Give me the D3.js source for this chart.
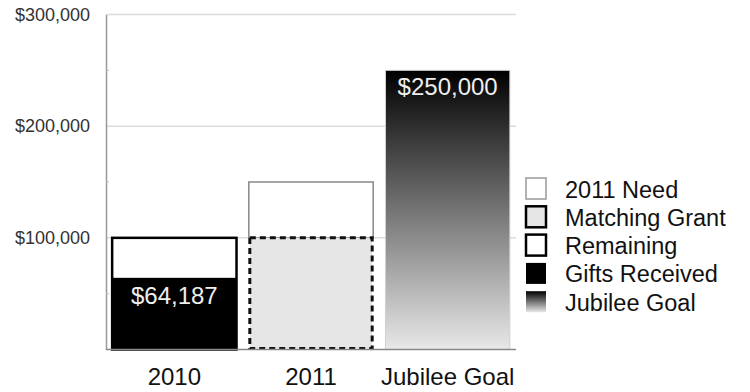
<!DOCTYPE html>
<html>
<head>
  <style>
    body { margin: 0; background: #fff; }
    text { font-family: "Liberation Sans", Arial, sans-serif; }
  </style>
</head>
<body>
  <script src="https://cdn.jsdelivr.net/npm/d3@7"></script>
  <script>
    // data
    var categories = ["2010", "2011", "Jubilee Goal"];
    var giftsReceived = 64187;     // 2010
    var remaining2010 = 100000;    // 2010 total bar
    var matchingGrant = 100000;    // 2011
    var need2011 = 150000;         // 2011 total bar
    var jubileeGoal = 250000;
    var yTicks = [0, 100000, 200000, 300000];
    var yMinorTicks = [50000, 150000, 250000];
    var legendLabels = ["2011 Need", "Matching Grant", "Remaining", "Gifts Received", "Jubilee Goal"];

    var width = 750, height = 392;
    var margin = {top: 14.5, left: 106, right: 234, bottom: 42.5};

    var svg = d3.select("body").append("svg")
      .attr("width", width)
      .attr("height", height);

    var defs = svg.append("defs");
    var grad = defs.append("linearGradient")
      .attr("id", "jubGrad")
      .attr("x1", 0).attr("y1", 0).attr("x2", 0).attr("y2", 1);
    grad.append("stop").attr("offset", "0%").attr("stop-color", "#000");
    grad.append("stop").attr("offset", "100%").attr("stop-color", "#e8e8e8");

    var x = d3.scaleBand()
      .domain(categories)
      .range([margin.left, width - margin.right])
      .paddingInner(0.09)
      .paddingOuter(0.045);

    var y = d3.scaleLinear()
      .domain([0, 300000])
      .range([height - margin.bottom, margin.top]);

    var fmt = function(v) { return "$" + d3.format(",")(v); };

    // gridlines
    svg.append("g").selectAll("line")
      .data(yTicks.slice(1))
      .enter().append("line")
      .attr("x1", margin.left).attr("x2", width - margin.right)
      .attr("y1", function(d) { return y(d); })
      .attr("y2", function(d) { return y(d); })
      .attr("stroke", "#dcdcdc")
      .attr("stroke-width", 1.5);

    // y axis
    var yAxis = d3.axisLeft(y)
      .tickValues(yTicks.slice(1))
      .tickFormat(fmt)
      .tickSize(0)
      .tickPadding(16);
    var ya = svg.append("g")
      .attr("transform", "translate(" + margin.left + ",0)")
      .call(yAxis);
    ya.select(".domain").attr("stroke", "#999").attr("stroke-width", 1.5);
    ya.selectAll("text").attr("font-size", 18).attr("fill", "#333")
      .attr("font-family", "Liberation Sans, Arial, sans-serif");

    svg.append("g").selectAll("line")
      .data(yMinorTicks)
      .enter().append("line")
      .attr("x1", margin.left).attr("x2", margin.left + 3)
      .attr("y1", function(d) { return y(d); })
      .attr("y2", function(d) { return y(d); })
      .attr("stroke", "#bbb");

    var bw = x.bandwidth();

    // 2010: remaining (white) + gifts received (black)
    var x0 = x(categories[0]);
    svg.append("rect")
      .attr("x", x0).attr("y", y(remaining2010))
      .attr("width", bw).attr("height", y(0) - y(remaining2010))
      .attr("fill", "#fff").attr("stroke", "#000").attr("stroke-width", 2.5);
    svg.append("rect")
      .attr("x", x0).attr("y", y(giftsReceived))
      .attr("width", bw).attr("height", y(0) - y(giftsReceived))
      .attr("fill", "#000");
    svg.append("text")
      .attr("x", x0 + bw / 2).attr("y", y(giftsReceived) + 26)
      .attr("text-anchor", "middle").attr("font-size", 24).attr("fill", "#eee")
      .text(fmt(giftsReceived));

    // 2011: need (thin outline) + matching grant (dashed)
    var x1 = x(categories[1]);
    svg.append("rect")
      .attr("x", x1).attr("y", y(need2011))
      .attr("width", bw).attr("height", y(matchingGrant) - y(need2011))
      .attr("fill", "#fff").attr("stroke", "#888").attr("stroke-width", 1.5);
    svg.append("rect")
      .attr("x", x1 + 1).attr("y", y(matchingGrant))
      .attr("width", bw - 2).attr("height", y(0) - y(matchingGrant) - 1)
      .attr("fill", "#e6e6e6").attr("stroke", "#111").attr("stroke-width", 3)
      .attr("stroke-dasharray", "6,4");

    // Jubilee goal
    var x2 = x(categories[2]);
    svg.append("rect")
      .attr("x", x2).attr("y", y(jubileeGoal))
      .attr("width", bw).attr("height", y(0) - y(jubileeGoal))
      .attr("fill", "url(#jubGrad)")
      .attr("stroke", "#d0d0d0").attr("stroke-width", 1);
    svg.append("text")
      .attr("x", x2 + bw / 2).attr("y", y(jubileeGoal) + 25)
      .attr("text-anchor", "middle").attr("font-size", 24).attr("fill", "#eee")
      .text(fmt(jubileeGoal));

    // baseline + x axis labels
    svg.append("line")
      .attr("x1", margin.left).attr("x2", width - margin.right)
      .attr("y1", y(0)).attr("y2", y(0))
      .attr("stroke", "#888").attr("stroke-width", 1.5);

    var xAxis = d3.axisBottom(x).tickSize(0).tickPadding(18.5);
    var xa = svg.append("g")
      .attr("transform", "translate(0," + y(0) + ")")
      .call(xAxis);
    xa.select(".domain").remove();
    xa.selectAll("text").attr("font-size", 24).attr("fill", "#111")
      .attr("font-family", "Liberation Sans, Arial, sans-serif");

    // legend
    var legendStyles = [
      {fill: "#fff", stroke: "#999", sw: 1.5},
      {fill: "#e6e6e6", stroke: "#000", sw: 2.5},
      {fill: "#fff", stroke: "#000", sw: 2.5},
      {fill: "#000", stroke: "none", sw: 0},
      {fill: "url(#jubGrad)", stroke: "none", sw: 0}
    ];
    var lg = svg.append("g").attr("transform", "translate(526,178)");
    var rows = lg.selectAll("g")
      .data(legendLabels)
      .enter().append("g")
      .attr("transform", function(d, i) { return "translate(0," + (i * 28.3) + ")"; });
    rows.append("rect")
      .attr("x", 0).attr("y", 0).attr("width", 20).attr("height", 21)
      .attr("fill", function(d, i) { return legendStyles[i].fill; })
      .attr("stroke", function(d, i) { return legendStyles[i].stroke; })
      .attr("stroke-width", function(d, i) { return legendStyles[i].sw; });
    rows.append("text")
      .attr("x", 39).attr("y", 19.5)
      .attr("font-size", 23.5).attr("fill", "#111")
      .text(function(d) { return d; });
  </script>
</body>
</html>
